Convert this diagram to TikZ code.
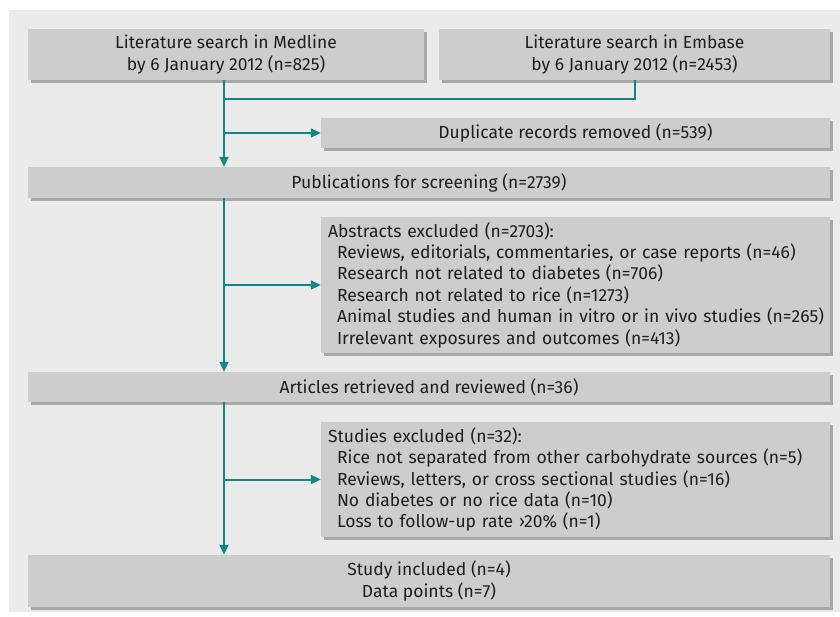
\documentclass[tikz,border=0pt]{standalone}
\usepackage{fontspec}
\setmainfont{Fira Sans}
\usetikzlibrary{arrows.meta,shadows}
\definecolor{teal}{RGB}{20,134,136}
\definecolor{boxgray}{RGB}{205,205,205}
\definecolor{panelgray}{RGB}{235,235,235}
\definecolor{shadowgray}{RGB}{168,168,168}
\definecolor{txt}{RGB}{30,30,30}
\begin{document}
\begin{tikzpicture}[x=1pt,y=-1pt,
  box/.style={fill=boxgray, draw=none, inner sep=0pt, text=txt,
    font=\fontsize{17.5}{21.4}\selectfont,
    drop shadow={shadow xshift=3pt, shadow yshift=-3pt, fill=shadowgray, opacity=1}},
  listbox/.style={box, minimum width=509pt, text width=509pt, align=left},
  conn/.style={draw=teal, line width=2pt},
  arr/.style={conn, -{Triangle[length=10pt,width=9pt]}}]
\useasboundingbox (0,0) rectangle (840,617);
\fill[panelgray] (9,10) rectangle (840,612);
% boxes
\node[box, minimum width=396pt, minimum height=51pt, align=center] (med) at (226,54.5)
  {Literature search in Medline\\by 6 January 2012 (n=825)};
\node[box, minimum width=391pt, minimum height=51pt, align=center] (emb) at (634.5,54.5)
  {Literature search in Embase\\by 6 January 2012 (n=2453)};
\node[box, minimum width=509pt, minimum height=30pt] (dup) at (575.5,133)
  {Duplicate records removed (n=539)};
\node[box, minimum width=802pt, minimum height=31pt] (pub) at (429,182.5)
  {Publications for screening (n=2739)};
\node[listbox, minimum height=136pt] (abs) at (575.5,285)
  {\hspace*{7pt}Abstracts excluded (n=2703):\\
   \hspace*{16pt}Reviews, editorials, commentaries, or case reports (n=46)\\
   \hspace*{16pt}Research not related to diabetes (n=706)\\
   \hspace*{16pt}Research not related to rice (n=1273)\\
   \hspace*{16pt}Animal studies and human in vitro or in vivo studies (n=265)\\
   \hspace*{16pt}Irrelevant exposures and outcomes (n=413)};
\node[box, minimum width=802pt, minimum height=30pt] (art) at (429,387)
  {Articles retrieved and reviewed (n=36)};
\node[listbox, minimum height=115pt] (stex) at (575.5,479.5)
  {\hspace*{7pt}Studies excluded (n=32):\\
   \hspace*{16pt}Rice not separated from other carbohydrate sources (n=5)\\
   \hspace*{16pt}Reviews, letters, or cross sectional studies (n=16)\\
   \hspace*{16pt}No diabetes or no rice data (n=10)\\
   \hspace*{16pt}Loss to follow-up rate ›20\% (n=1)};
\node[box, minimum width=802pt, minimum height=52pt, align=center] (inc) at (429,581)
  {Study included (n=4)\\Data points (n=7)};
% connectors
\coordinate (t) at (224,0);
\coordinate (e) at (635,0);
\coordinate (j) at (224,99);
\draw[arr] (med.south -| t) -- (pub.north -| t);
\draw[conn] (emb.south -| e) -- (j -| e) -- (j);
\draw[arr] (dup.west -| t) -- (dup.west);
\draw[arr] (pub.south -| t) -- (art.north -| t);
\draw[arr] (abs.west -| t) -- (abs.west);
\draw[arr] (art.south -| t) -- (inc.north -| t);
\draw[arr] (stex.west -| t) -- (stex.west);
\end{tikzpicture}
\end{document}
